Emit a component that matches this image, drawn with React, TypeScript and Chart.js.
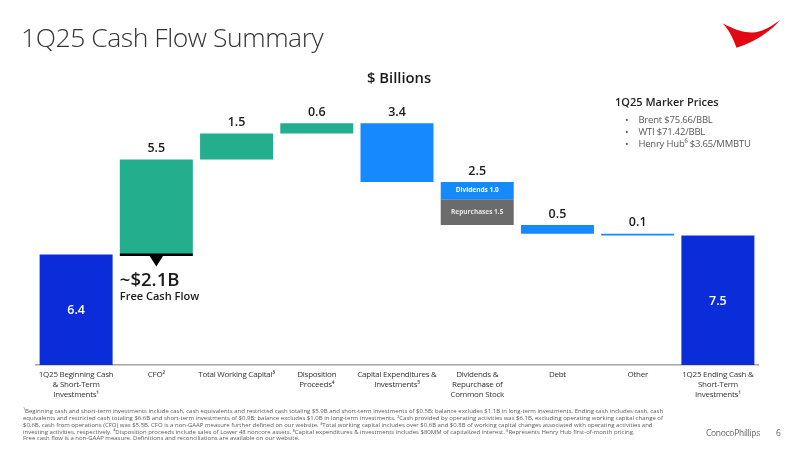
import { useEffect, useRef } from "react"
import Chart from 'chart.js/auto';

const categories = [
    ['1Q25 Beginning Cash', '& Short-Term', 'Investments¹'],
    'CFO²',
    'Total Working Capital³',
    ['Disposition', 'Proceeds⁴'],
    ['Capital Expenditures &', 'Investments⁵'],
    ['Dividends &', 'Repurchase of', 'Common Stock'],
    'Debt',
    'Other',
    ['1Q25 Ending Cash &', 'Short-Term', 'Investments¹'],
];

// bottom and top of each step, $ billions
const barLows = [0, 6.4, 11.9, 13.4, 10.6, 9.6, 7.6, 7.5, 0];
const barHighs = [6.4, 11.9, 13.4, 14, 14, 10.6, 8.1, 7.6, 7.5];
const repurchaseLows = [null, null, null, null, null, 8.1, null, null, null];
const repurchaseHighs = [null, null, null, null, null, 9.6, null, null, null];

const valueLabels = ['6.4', '5.5', '1.5', '0.6', '3.4', '2.5', '0.5', '0.1', '7.5'];
const insideLabels = [0, 8];
const barColors = ['#0b2dd9', '#23ae8d', '#23ae8d', '#23ae8d', '#1589fe', '#1589fe', '#1589fe', '#1589fe', '#0b2dd9'];

const markerPrices = ['Brent $75.66/BBL', 'WTI $71.42/BBL', 'Henry Hub⁶ $3.65/MMBTU'];

const footnotes = [
    '¹Beginning cash and short-term investments include cash, cash equivalents and restricted cash totaling $5.9B and short-term investments of $0.5B; balance excludes $1.1B in long-term investments. Ending cash includes cash, cash',
    'equivalents and restricted cash totaling $6.6B and short-term investments of $0.9B; balance excludes $1.0B in long-term investments. ²Cash provided by operating activities was $6.1B, excluding operating working capital change of',
    '$0.6B, cash from operations (CFO) was $5.5B. CFO is a non-GAAP measure further defined on our website. ³Total working capital includes over $0.6B and $0.8B of working capital changes associated with operating activities and',
    'investing activities, respectively. ⁴Disposition proceeds include sales of Lower 48 noncore assets. ⁵Capital expenditures & investments includes $80MM of capitalized interest. ⁶Represents Henry Hub first-of-month pricing.',
    'Free cash flow is a non-GAAP measure. Definitions and reconciliations are available on our website.',
];

const FONT = '"Open Sans", sans-serif';

const labelPlugin = {
    id: 'waterfallLabels',
    beforeDraw(chart: any) {
        // tick labels run a bit tighter than Open Sans does by default
        chart.ctx.letterSpacing = '-0.25px';
    },
    afterDatasetsDraw(chart: any) {
        const ctx = chart.ctx;
        const main = chart.getDatasetMeta(0).data;
        const buyback = chart.getDatasetMeta(1).data;
        ctx.save();
        ctx.letterSpacing = '0px';
        ctx.textAlign = 'center';
        ctx.textBaseline = 'middle';

        main.forEach((bar: any, i: number) => {
            const inside = insideLabels.includes(i);
            ctx.font = `600 12.5px ${FONT}`;
            ctx.fillStyle = inside ? '#ffffff' : '#1a1a1a';
            const y = inside ? (bar.y + bar.base) / 2 + 1 : bar.y - 11;
            ctx.fillText(valueLabels[i], bar.x, y);
        });

        // the split inside the dividends bar
        ctx.font = `700 6.5px ${FONT}`;
        ctx.fillStyle = '#ffffff';
        ctx.fillText('Dividends 1.0', main[5].x, (main[5].y + main[5].base) / 2);
        ctx.fillStyle = '#e6e6e6';
        ctx.fillText('Repurchases 1.5', buyback[5].x, (buyback[5].y + buyback[5].base) / 2);

        // free cash flow marker under the CFO bar
        const cfo = main[1];
        const half = cfo.width / 2;
        ctx.fillStyle = '#000000';
        ctx.fillRect(cfo.x - half, cfo.base - 1, cfo.width, 2.5);
        ctx.beginPath();
        ctx.moveTo(cfo.x - 7, cfo.base + 1);
        ctx.lineTo(cfo.x + 7, cfo.base + 1);
        ctx.lineTo(cfo.x, cfo.base + 12);
        ctx.closePath();
        ctx.fill();

        ctx.textAlign = 'left';
        ctx.fillStyle = '#1a1a1a';
        ctx.font = `600 18.5px ${FONT}`;
        ctx.fillText('~$2.1B', cfo.x - half, cfo.base + 26);
        ctx.font = `600 11px ${FONT}`;
        ctx.fillText('Free Cash Flow', cfo.x - half, cfo.base + 42);
        ctx.restore();
    },
};

function place(x: number, y: number, extra: object = {}) {
    return { position: 'absolute', left: x, top: y, whiteSpace: 'nowrap', fontFamily: FONT, lineHeight: 1, ...extra } as React.CSSProperties;
}

export default function App() {

    const canvasRef = useRef<HTMLCanvasElement>(null);

    useEffect(() => {

        const ctx = canvasRef.current;

        if (ctx) {
            const myChart = new Chart(ctx, {
                type: 'bar',
                data: {
                    labels: categories as any,
                    datasets: [{
                        label: 'Cash flow',
                        data: barLows.map((low, i) => [low, barHighs[i]]) as any,
                        backgroundColor: barColors,
                        categoryPercentage: 1,
                        barPercentage: 0.91,
                    }, {
                        label: 'Repurchases',
                        data: repurchaseLows.map((low, i) => (low === null ? null : [low, repurchaseHighs[i]])) as any,
                        backgroundColor: '#6b6b6b',
                        categoryPercentage: 1,
                        barPercentage: 0.91,
                    }],
                },
                plugins: [labelPlugin],
                options: {
                    responsive: false,
                    animation: false,
                    layout: { padding: { left: 36, right: 42, top: 88.7, bottom: 0 } },
                    plugins: {
                        legend: { display: false },
                        tooltip: { enabled: false },
                    },
                    scales: {
                        x: {
                            stacked: true,
                            grid: { display: false, drawTicks: false },
                            border: { color: '#a3a3a3', width: 1.5 },
                            afterFit: (scale: any) => { scale.height = 85; },
                            ticks: {
                                autoSkip: false,
                                maxRotation: 0,
                                padding: 4,
                                color: '#333333',
                                font: { family: FONT, size: 8, lineHeight: 1.31 },
                            },
                        },
                        y: {
                            display: false,
                            min: 0,
                            max: 16,
                        },
                    },
                },
            });

            return () => {
                myChart.destroy();
            };
        }

    }, []);

    return (
        <div style={{ position: 'absolute', left: 0, top: 0, width: 800, height: 450, background: '#fff', overflow: 'hidden' }}>
            <canvas ref={canvasRef} width={800} height={450} style={{ display: 'block' }}></canvas>

            <div style={place(21, 23.5, { fontSize: 26.5, fontWeight: 300, letterSpacing: -0.45, color: '#333' })}>1Q25 Cash Flow Summary</div>
            <svg style={{ position: 'absolute', left: 0, top: 0 }} width={800} height={450}>
                <path d="M722.5 23.3 C735 30 745 33 753 32.5 C763 32 772 26 780 20 C772 30 757 41 736.5 47.8 C733 38 729 30 722.5 23.3 Z" fill="#e30613" />
            </svg>

            <div style={place(367, 69.5, { fontSize: 14.8, fontWeight: 600, color: '#1a1a1a' })}>$ Billions</div>

            <div style={place(615, 96, { fontSize: 11, fontWeight: 600, color: '#222' })}>1Q25 Marker Prices</div>
            {markerPrices.map((text, i) => (
                <div key={text} style={place(625, 115 + i * 12, { fontSize: 9.5, letterSpacing: -0.2, color: '#595959' })}>
                    •<span style={{ marginLeft: 10 }}>{text}</span>
                </div>
            ))}

            {footnotes.map((line, i) => (
                <div key={i} style={place(23, 408 + i * 6.85, { fontSize: 6, color: '#595959' })}>{line}</div>
            ))}

            <div style={place(706, 428.5, { fontSize: 8.5, letterSpacing: -0.3, color: '#666' })}>ConocoPhillips</div>
            <div style={place(776, 428.5, { fontSize: 8.5, color: '#666' })}>6</div>
        </div>
    );
}
